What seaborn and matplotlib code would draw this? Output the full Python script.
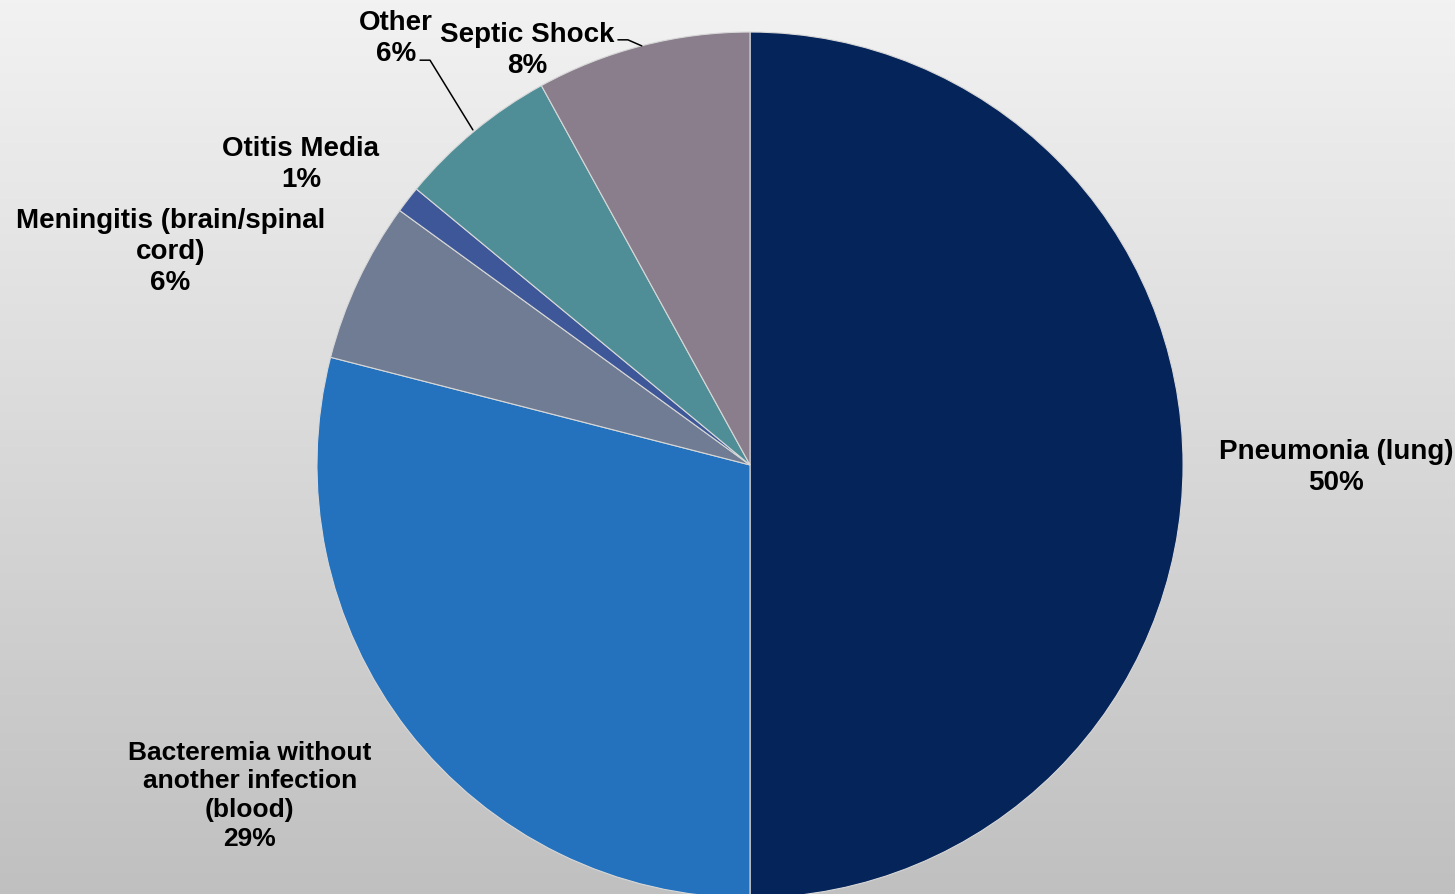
import numpy as np
import matplotlib
matplotlib.use("Agg")
import matplotlib.pyplot as plt
import seaborn as sns

# 数据
categories = ["Pneumonia (lung)", "Bacteremia without\nanother infection\n(blood)",
              "Meningitis (brain/spinal\ncord)", "Otitis Media", "Other", "Septic Shock"]
shares = [50, 29, 6, 1, 6, 8]
slice_colors = ["#05245A", "#2472BD", "#6F7C93", "#3D5798", "#4F8E97", "#8A7E8C"]

sns.set_theme(style="white")
plt.rcParams["font.family"] = ["Liberation Sans", "DejaVu Sans"]

fig = plt.figure(figsize=(14.55, 8.94), dpi=100)

# 背景渐变
bg = fig.add_axes([0, 0, 1, 1], zorder=0)
grad = np.linspace(0, 1, 256).reshape(-1, 1)
cmap = sns.blend_palette(["#F2F2F2", "#C0C0C0"], as_cmap=True)
bg.imshow(grad, aspect="auto", cmap=cmap, extent=[0, 1, 0, 1], origin="upper")
bg.set_axis_off()

ax = fig.add_axes([0, 0, 1, 1], zorder=1)
ax.patch.set_alpha(0)
wedges, _ = ax.pie(shares, colors=sns.color_palette(slice_colors), startangle=90,
                   counterclock=False, radius=1,
                   wedgeprops=dict(edgecolor="#D8D8D8", linewidth=0.8))
ax.set_xlim(-1.732, 1.628)
ax.set_ylim(-0.991, 1.074)
ax.set_aspect("auto")
ax.set_axis_off()

# 标签位置 (数据坐标)
label_pos = [(1.353, -0.007), (-1.155, -0.764), (-1.339, 0.492),
             (-1.037, 0.695), (-0.818, 0.986), (-0.515, 0.958)]
for i, (name, val) in enumerate(zip(categories, shares)):
    fsize = 20
    if i == 1:
        fsize = 19
    ax.text(label_pos[i][0], label_pos[i][1], f"{name}\n{val}%", ha="center", va="center",
            fontsize=fsize, fontweight="bold", linespacing=1.25, color="black")

# 引导线
ax.plot([-0.762, -0.739, -0.640], [0.935, 0.935, 0.774], color="black", lw=1.1)
ax.plot([-0.305, -0.282, -0.250], [0.982, 0.982, 0.968], color="black", lw=1.1)

fig.savefig("out.png", dpi=100)
